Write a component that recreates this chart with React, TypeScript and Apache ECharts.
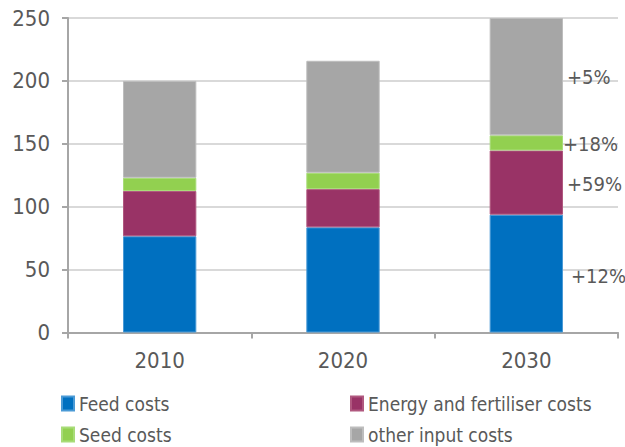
import React, { useEffect, useRef } from "react";
import * as echarts from "echarts";

const categories = ["2010", "2020", "2030"];
const feedCosts = [76.5, 83.6, 93.7];
const energyCosts = [36, 30.4, 51];
const seedCosts = [10.5, 13, 12];
const otherCosts = [77, 89, 93.3];
const seriesNames = ["Feed costs", "Energy and fertiliser costs", "Seed costs", "other input costs"];
const growthLabels = ["+12%", "+59%", "+18%", "+5%"];
const yTicks = [0, 50, 100, 150, 200, 250];

const FONT = "'DejaVu Sans Condensed', 'DejaVu Sans', sans-serif";
const TXT = "#595959";

export default function App() {
  const ref = useRef<HTMLDivElement>(null);
  useEffect(() => {
    if (!ref.current) return;
    const chart = echarts.init(ref.current, undefined, { renderer: "svg" });
    const colors = ["#0070C0", "#993366", "#92D050", "#A6A6A6"];
    const borders = ["#4a9ad6", "#b0587f", "#a8dc78", "#bdbdbd"];
    const values = [feedCosts, energyCosts, seedCosts, otherCosts];
    const offsets = [[6, 2], [2, 1], [-2, 1], [2, 0]];
    const series = values.map((vals, i) => ({
      name: seriesNames[i],
      type: "bar",
      stack: "total",
      barWidth: "40%",
      itemStyle: { color: colors[i], borderColor: borders[i], borderWidth: 1 },
      data: vals.map((v, j) =>
        j === 2
          ? {
              value: v,
              label: {
                show: true,
                position: "right",
                distance: 2,
                offset: offsets[i],
                formatter: growthLabels[i],
                color: TXT,
                fontFamily: FONT,
                fontSize: 20,
              },
            }
          : v
      ),
    }));
    const legendPos = [
      [61, 394],
      [350, 394],
      [61, 425],
      [350, 425],
    ];
    const legend = seriesNames.map((n, i) => ({
      data: [n],
      left: legendPos[i][0],
      top: legendPos[i][1],
      padding: 0,
      itemWidth: 12,
      itemHeight: 14,
      itemGap: 10,
      icon: "rect",
      textStyle: { color: TXT, fontSize: 19, fontFamily: FONT, lineHeight: 14 },
    }));
    chart.setOption({
      animation: false,
      textStyle: { fontFamily: FONT },
      grid: { left: 68, right: 7, top: 18, bottom: 114.5, containLabel: false },
      legend,
      xAxis: {
        type: "category",
        data: categories,
        axisLine: { lineStyle: { color: "#a6a6a6", width: 2 } },
        axisTick: { show: true, length: 6, lineStyle: { color: "#a6a6a6", width: 2 } },
        axisLabel: { color: TXT, fontSize: 22, fontFamily: FONT, margin: 17 },
      },
      yAxis: {
        type: "value",
        min: yTicks[0],
        max: yTicks[yTicks.length - 1],
        interval: 50,
        axisLine: { show: true, lineStyle: { color: "#a6a6a6", width: 2 } },
        axisTick: { show: true, length: 6, lineStyle: { color: "#a6a6a6", width: 2 } },
        splitLine: { lineStyle: { color: "#d9d9d9", width: 2 } },
        axisLabel: { color: TXT, fontSize: 22, fontFamily: FONT, margin: 18 },
      },
      series,
    });
    return () => chart.dispose();
  }, []);
  return <div ref={ref} style={{ width: 625, height: 447, position: "absolute", left: 0, top: 0 }} />;
}
